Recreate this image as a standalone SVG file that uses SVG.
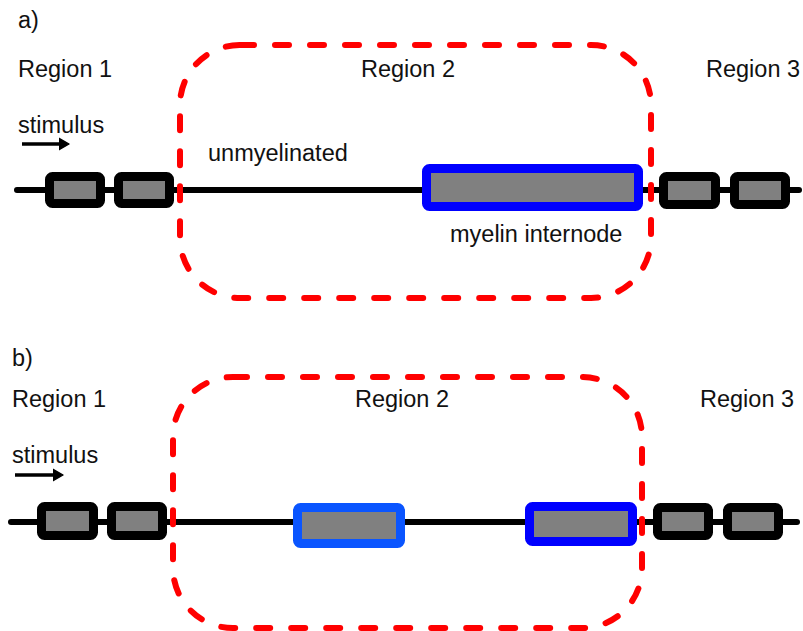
<svg xmlns="http://www.w3.org/2000/svg" width="803" height="631" viewBox="0 0 803 631">
<style>
text{font-family:"Liberation Sans",Arial,sans-serif;font-size:23.5px;fill:#111}
.axon{stroke:#000;stroke-width:6;stroke-linecap:round;fill:none}
.node{fill:#808080;stroke:#000;stroke-width:9}
.myel{fill:#808080;stroke:#0000ff;stroke-width:9}
.myel2{fill:#808080;stroke:#0a55ff;stroke-width:9}
.region{fill:none;stroke:#ff0000;stroke-width:6;stroke-dasharray:14 21;stroke-linecap:round}
.arrow{stroke:#000;stroke-width:3.5;fill:none}
</style>
<defs>
<marker id="ah" markerWidth="4" markerHeight="4" refX="1" refY="2" orient="auto" markerUnits="strokeWidth">
<path d="M0,0.3 L3,2 L0,3.7 Z" fill="#000" stroke="#000" stroke-width="0.4" stroke-linejoin="round"/>
</marker>
</defs>
<rect width="803" height="631" fill="#fff"/>
<g id="panel-a">
<text x="18" y="28">a)</text>
<g id="connectors-a">
<line class="axon" x1="17" y1="190" x2="799" y2="190"/>
<line class="arrow" x1="22" y1="144" x2="62" y2="144" marker-end="url(#ah)"/>
</g>
<g id="a-node1"><rect class="node" x="49.5" y="176.5" width="51" height="27" rx="3"/></g>
<g id="a-node2"><rect class="node" x="118.5" y="176.5" width="51" height="27" rx="3"/></g>
<g id="a-myelin"><rect class="myel" x="426.5" y="168.5" width="212" height="38" rx="3"/></g>
<g id="a-node3"><rect class="node" x="663.5" y="176.5" width="52" height="28" rx="3"/></g>
<g id="a-node4"><rect class="node" x="734.5" y="176.5" width="51" height="28" rx="3"/></g>
<g id="a-region2"><rect class="region" x="180" y="45" width="471" height="253" rx="60"/></g>
<text x="18" y="77">Region 1</text>
<text x="408" y="77" text-anchor="middle">Region 2</text>
<text x="706" y="77">Region 3</text>
<text x="18" y="133">stimulus</text>
<text x="208" y="161">unmyelinated</text>
<text x="450" y="242">myelin internode</text>
</g>
<g id="panel-b">
<text x="12" y="366">b)</text>
<g id="connectors-b">
<line class="axon" x1="11" y1="522" x2="797" y2="522"/>
<line class="arrow" x1="15" y1="475" x2="56" y2="475" marker-end="url(#ah)"/>
</g>
<g id="b-node1"><rect class="node" x="41.5" y="506.5" width="52" height="29" rx="3"/></g>
<g id="b-node2"><rect class="node" x="111.5" y="506.5" width="51" height="29" rx="3"/></g>
<g id="b-myelin1"><rect class="myel2" x="297.5" y="507.5" width="103" height="36" rx="3"/></g>
<g id="b-myelin2"><rect class="myel" x="529.5" y="506.5" width="103" height="35" rx="3"/></g>
<g id="b-node3"><rect class="node" x="657.5" y="507.5" width="51" height="28" rx="3"/></g>
<g id="b-node4"><rect class="node" x="727.5" y="507.5" width="51" height="28" rx="3"/></g>
<g id="b-region2"><rect class="region" x="173" y="377" width="469" height="251" rx="60"/></g>
<text x="12" y="407">Region 1</text>
<text x="402" y="407" text-anchor="middle">Region 2</text>
<text x="700" y="407">Region 3</text>
<text x="12" y="463">stimulus</text>
</g>
</svg>
